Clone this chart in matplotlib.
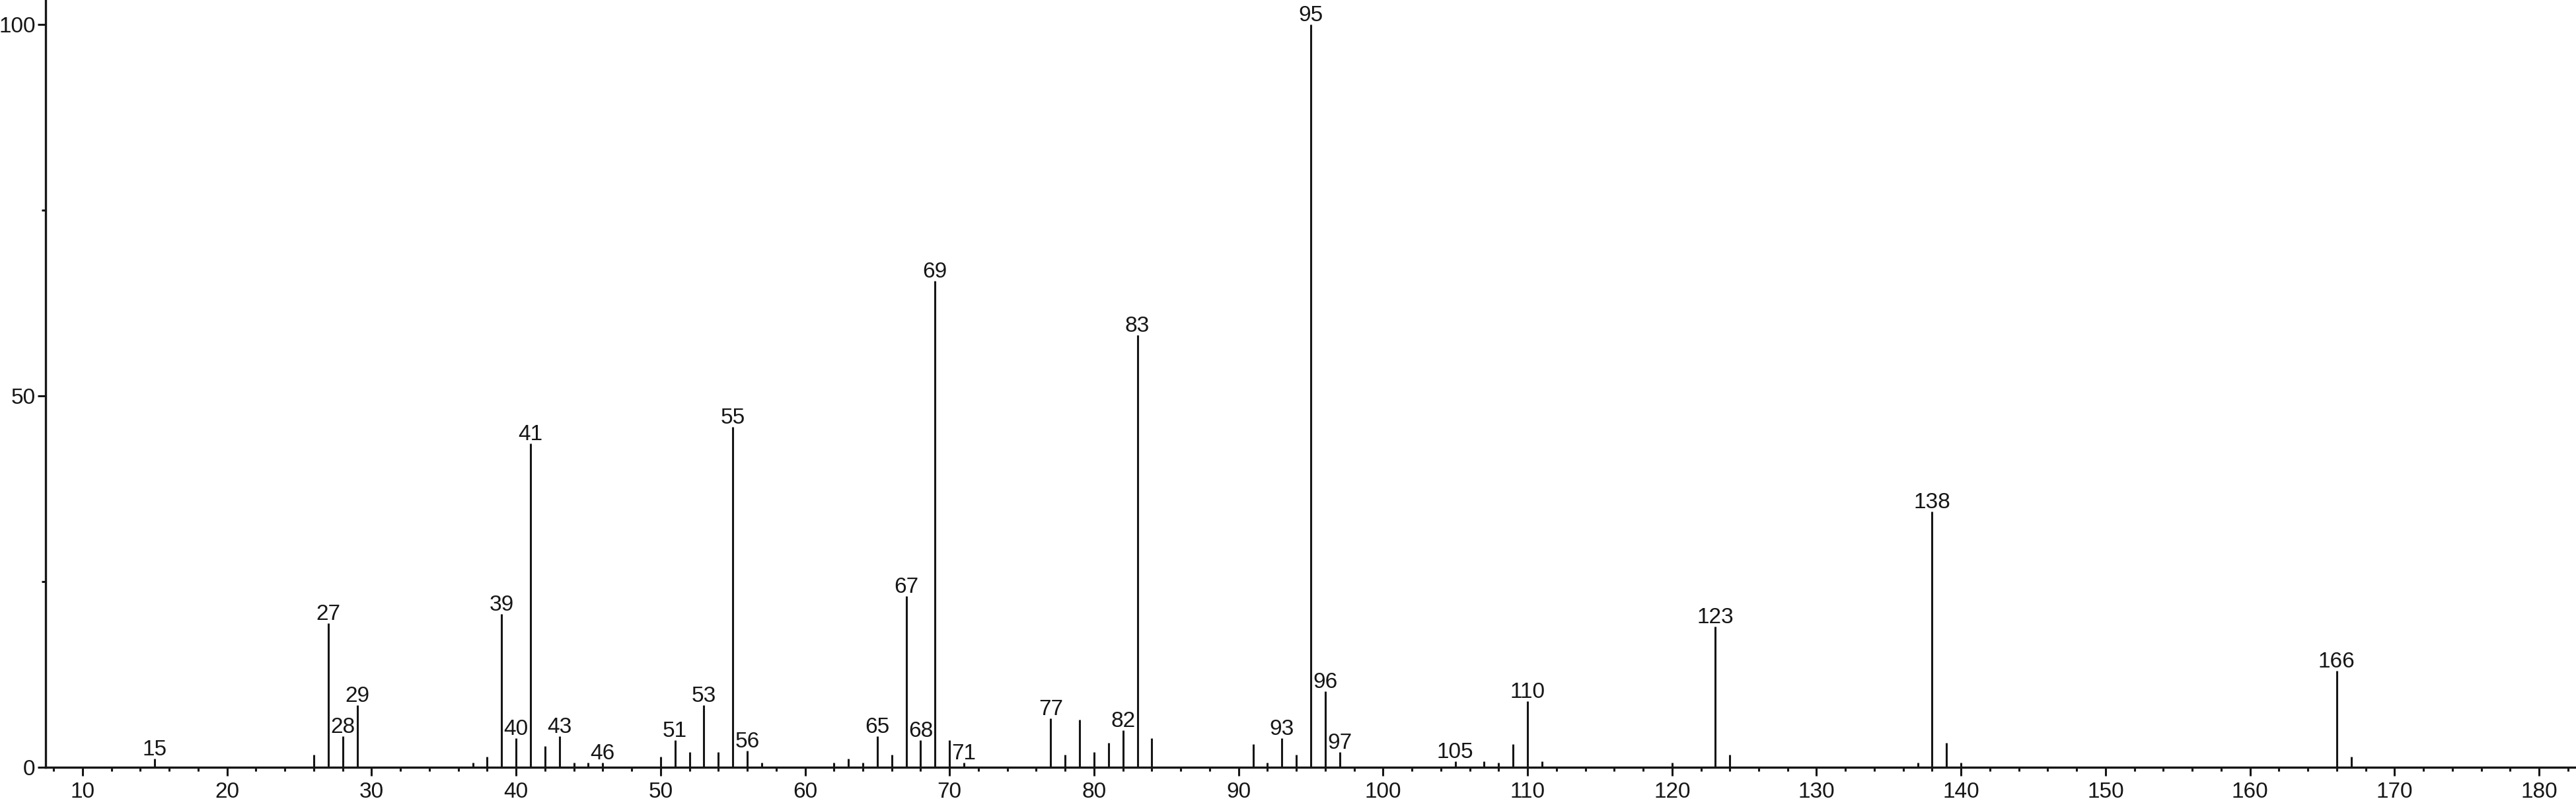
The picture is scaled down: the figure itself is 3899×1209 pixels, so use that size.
"""Mass spectrum stick plot: relative abundance vs m/z, with labelled peaks."""
import matplotlib
matplotlib.use("Agg")
import matplotlib.pyplot as plt
from matplotlib.ticker import MultipleLocator

plt.rcParams["font.family"] = ["Liberation Sans", "DejaVu Sans"]

# m/z and relative abundance (%)
mz = [15, 26, 27, 28, 29, 37, 38, 39, 40, 41, 42, 43, 44, 45, 46,
      50, 51, 52, 53, 54, 55, 56, 57, 62, 63, 64, 65, 66, 67, 68, 69,
      70, 71, 77, 78, 79, 80, 81, 82, 83, 84, 91, 92, 93, 94, 95, 96,
      97, 105, 107, 108, 109, 110, 111, 120, 123, 124, 137, 138, 139,
      140, 166, 167]
abundance = [1.1, 1.7, 19.4, 4.2, 8.3, 0.6, 1.4, 20.6, 3.9, 43.6, 2.8, 4.2, 0.6, 0.6, 0.6,
             1.4, 3.6, 2.0, 8.3, 2.0, 45.8, 2.2, 0.6, 0.6, 1.1, 0.6, 4.2, 1.7, 23.0, 3.6, 65.5,
             3.6, 0.6, 6.6, 1.7, 6.4, 2.0, 3.3, 5.0, 58.2, 3.9, 3.1, 0.6, 3.9, 1.7, 100.0, 10.2,
             2.0, 0.8, 0.8, 0.6, 3.1, 8.9, 0.8, 0.6, 18.9, 1.7, 0.6, 34.4, 3.3,
             0.6, 13.0, 1.4]

# peaks that carry an m/z label
labelled = [15, 27, 28, 29, 39, 40, 41, 43, 46, 51, 53, 55, 56, 65, 67, 68,
            69, 71, 77, 82, 83, 93, 95, 96, 97, 105, 110, 123, 138, 166]

INK = "#161616"

fig = plt.figure(figsize=(38.99, 12.09), dpi=100)
ax = fig.add_axes([0.0177, 0.03995, 1 - 0.0177, 0.96005])

ax.vlines(mz, 0, abundance, colors=INK, linewidth=2.2)

peak = dict(zip(mz, abundance))
for m in labelled:
    ax.annotate(str(m), (m, peak[m]), xytext=(0, 3.6), textcoords="offset points",
                ha="center", va="baseline", fontsize=24, color=INK)

ax.set_xlim(7.44, 182.56)
ax.set_ylim(0, 103.3)

ax.xaxis.set_major_locator(MultipleLocator(10))
ax.xaxis.set_minor_locator(MultipleLocator(2))
ax.yaxis.set_major_locator(MultipleLocator(50))
ax.yaxis.set_minor_locator(MultipleLocator(25))

for side in ("top", "right"):
    ax.spines[side].set_visible(False)
for side in ("left", "bottom"):
    ax.spines[side].set_linewidth(2.4)
    ax.spines[side].set_color(INK)

ax.tick_params(axis="both", which="major", direction="out", length=9, width=2.2,
               colors=INK, labelsize=24)
ax.tick_params(axis="both", which="minor", direction="out", length=4.5, width=2.2,
               colors=INK)
ax.tick_params(axis="x", which="major", pad=7)
ax.tick_params(axis="y", which="major", pad=2)

fig.savefig("out.png", dpi=100)
